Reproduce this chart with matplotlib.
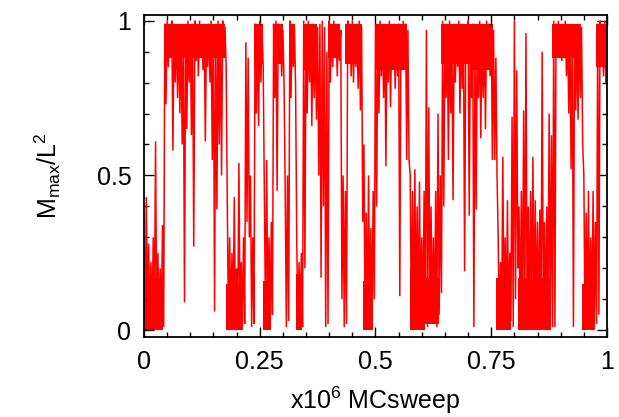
import numpy as np
import matplotlib
matplotlib.use("Agg")
import matplotlib.pyplot as plt
from matplotlib.ticker import MultipleLocator

plt.rcParams['font.family'] = ['Liberation Sans', 'DejaVu Sans']
plt.rcParams['mathtext.default'] = 'regular'

# trace, one bin every 0.005 x10^6 sweeps:
# upper and lower excursion of M_max/L^2 inside each bin
step = 0.005
hi = [0.27, 0.43, 0.28, 0.22, 0.30, 0.61, 0.25, 0.20, 0.34, 0.99,
      1.00, 0.99, 1.00, 0.99, 0.98, 0.99, 0.97, 0.98, 0.99, 1.00,
      0.98, 0.99, 1.00, 0.99, 1.00, 0.98, 0.99, 0.97, 0.99, 1.00,
      0.98, 0.99, 1.00, 0.99, 1.00, 0.98, 0.40, 0.30, 0.25, 0.43,
      0.20, 0.54, 0.22, 0.30, 0.93, 0.88, 0.50, 0.30, 0.99, 0.98,
      1.00, 0.97, 0.45, 0.55, 0.30, 0.35, 0.99, 1.00, 0.99, 0.98,
      0.97, 0.45, 0.50, 1.00, 0.99, 0.98, 0.28, 0.22, 0.25, 1.00,
      0.99, 1.00, 0.98, 0.99, 0.97, 0.98, 0.99, 1.00, 0.98, 0.90,
      1.00, 0.99, 1.00, 0.98, 0.99, 0.97, 0.50, 0.45, 1.00, 0.99,
      1.00, 0.98, 0.99, 1.00, 0.98, 0.60, 0.38, 0.50, 0.33, 0.45,
      0.99, 0.98, 1.00, 0.97, 0.99, 0.98, 1.00, 0.97, 0.99, 0.98,
      0.99, 0.98, 1.00, 0.99, 0.97, 0.50, 0.45, 0.52, 0.40, 0.48,
      0.30, 0.45, 0.97, 0.72, 0.40, 0.30, 0.45, 0.70, 0.50, 1.00,
      0.98, 0.99, 1.00, 0.97, 0.99, 0.98, 1.00, 0.99, 0.98, 0.98,
      1.00, 0.97, 0.99, 0.99, 0.98, 1.00, 0.99, 0.97, 1.00, 0.99,
      0.98, 0.97, 0.88, 0.30, 0.22, 0.56, 0.30, 0.42, 0.25, 0.69,
      1.00, 0.84, 0.40, 0.45, 0.71, 0.96, 0.40, 0.45, 0.56, 0.42,
      0.35, 0.39, 0.90, 0.35, 0.40, 0.70, 0.63, 1.00, 0.99, 1.00,
      0.98, 0.99, 1.00, 0.98, 0.97, 0.99, 0.98, 0.97, 0.99, 0.98,
      0.50, 0.38, 0.45, 0.30, 0.45, 0.35, 0.99, 1.00, 0.98, 1.00,
      0.99]
lo = [0.02, 0.05, 0.01, 0.03, 0.02, 0.01, 0.02, 0.01, 0.01, 0.73,
      0.85, 0.90, 0.58, 0.80, 0.75, 0.70, 0.60, 0.09, 0.65, 0.80,
      0.63, 0.27, 0.87, 0.82, 0.90, 0.84, 0.61, 0.85, 0.80, 0.55,
      0.06, 0.39, 0.60, 0.50, 0.90, 0.85, 0.01, 0.02, 0.01, 0.03,
      0.01, 0.02, 0.01, 0.02, 0.35, 0.30, 0.01, 0.02, 0.70, 0.66,
      0.80, 0.85, 0.03, 0.02, 0.01, 0.05, 0.75, 0.45, 0.88, 0.82,
      0.80, 0.01, 0.03, 0.75, 0.85, 0.78, 0.01, 0.02, 0.01, 0.20,
      0.70, 0.80, 0.66, 0.75, 0.68, 0.50, 0.17, 0.40, 0.01, 0.02,
      0.80, 0.85, 0.88, 0.82, 0.87, 0.10, 0.01, 0.02, 0.87, 0.82,
      0.80, 0.85, 0.78, 0.71, 0.35, 0.01, 0.01, 0.02, 0.01, 0.10,
      0.40, 0.70, 0.82, 0.75, 0.53, 0.80, 0.72, 0.85, 0.78, 0.82,
      0.11, 0.85, 0.90, 0.55, 0.55, 0.02, 0.01, 0.02, 0.01, 0.03,
      0.01, 0.02, 0.01, 0.05, 0.03, 0.02, 0.01, 0.05, 0.12, 0.40,
      0.75, 0.55, 0.70, 0.42, 0.80, 0.85, 0.70, 0.78, 0.19, 0.86,
      0.37, 0.75, 0.01, 0.39, 0.75, 0.62, 0.75, 0.65, 0.85, 0.82,
      0.55, 0.55, 0.50, 0.01, 0.02, 0.01, 0.02, 0.01, 0.03, 0.01,
      0.10, 0.20, 0.01, 0.02, 0.01, 0.02, 0.01, 0.03, 0.01, 0.02,
      0.01, 0.02, 0.01, 0.02, 0.01, 0.02, 0.01, 0.01, 0.88, 0.90,
      0.87, 0.90, 0.82, 0.70, 0.52, 0.01, 0.71, 0.68, 0.75, 0.60,
      0.01, 0.02, 0.01, 0.03, 0.01, 0.02, 0.05, 0.87, 0.82, 0.80,
      0.70]

# stretches where the trace is so dense it reads as a solid band
band_start = [0.000, 0.043, 0.177, 0.238, 0.258, 0.279, 0.314, 0.329,
              0.344, 0.398, 0.435, 0.474, 0.498, 0.574, 0.610, 0.641,
              0.710, 0.760, 0.807, 0.881, 0.946, 0.976]
band_end = [0.042, 0.175, 0.214, 0.257, 0.275, 0.300, 0.327, 0.342,
            0.374, 0.424, 0.470, 0.494, 0.569, 0.606, 0.638, 0.708,
            0.753, 0.792, 0.879, 0.944, 0.975, 1.000]
band_lo = [0.00, 0.88, 0.00, 0.86, 0.00, 0.86, 0.86, 0.00,
           0.84, 0.88, 0.86, 0.00, 0.84, 0.00, 0.02, 0.86,
           0.84, 0.00, 0.00, 0.88, 0.00, 0.85]
band_hi = [0.17, 0.99, 0.15, 0.99, 0.16, 0.99, 0.99, 0.18,
           0.99, 0.99, 0.99, 0.16, 0.99, 0.20, 0.17, 0.99,
           0.99, 0.17, 0.17, 0.99, 0.15, 0.99]

# zig-zag through each bin: top, then bottom half a bin later
x = []
y = []
for i in range(len(hi)):
    x.append(i * step)
    y.append(hi[i])
    x.append(i * step + step / 2)
    y.append(lo[i])
x = np.array(x)
y = np.array(y)

fig = plt.figure(figsize=(6.19, 4.17), dpi=100)
ax = fig.add_axes([0.2326, 0.1918, 0.748, 0.772])
for a, b, l, h in zip(band_start, band_end, band_lo, band_hi):
    ax.fill_between([a, b], [l, l], [h, h], color='#ff0000', lw=0)
ax.plot(x, y, color='#ff0000', lw=1.1, solid_joinstyle='miter')

ax.set_xlim(0, 1)
ax.set_ylim(-0.022, 1.018)
ax.xaxis.set_major_locator(MultipleLocator(0.25))
ax.xaxis.set_minor_locator(MultipleLocator(0.05))
ax.yaxis.set_major_locator(MultipleLocator(0.5))
ax.yaxis.set_minor_locator(MultipleLocator(0.1))
ax.xaxis.set_major_formatter(plt.FuncFormatter(lambda v, p: ('%g' % v)))
ax.yaxis.set_major_formatter(plt.FuncFormatter(lambda v, p: ('%g' % v)))
ax.tick_params(which='both', direction='in', top=True, right=True,
               labelsize=18, width=1.0)
ax.tick_params(which='major', length=7, pad=9)
ax.tick_params(which='minor', length=3.5)
for s in ax.spines.values():
    s.set_linewidth(1.3)
    s.set_zorder(3)

ax.set_xlabel('x10$^6$ MCsweep', fontsize=18, labelpad=8)
ax.set_ylabel('M$_{max}$/L$^2$', fontsize=18, labelpad=24)

fig.savefig('out.png', dpi=100)
